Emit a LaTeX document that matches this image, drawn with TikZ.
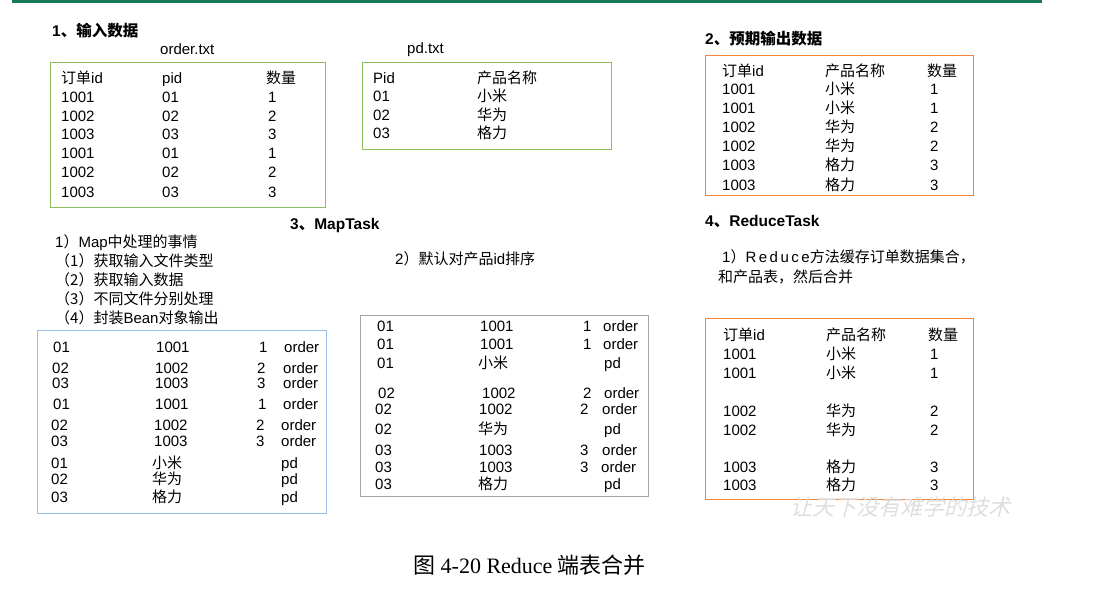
\documentclass[tikz,border=0pt]{standalone}
\usepackage{fontspec}
\setmainfont{Liberation Sans}
\newfontfamily\zh{Noto Sans CJK SC}
\newfontfamily\wmf{Noto Sans CJK SC}[FakeSlant=0.25]
\newfontfamily\capserif{Liberation Serif}
\newcommand\zc[1]{{\zh #1}}
\definecolor{topgreen}{RGB}{24,120,92}
\definecolor{boxgreen}{RGB}{140,192,95}
\definecolor{boxorange}{RGB}{242,133,52}
\definecolor{boxblue}{RGB}{150,190,230}
\definecolor{boxgray}{RGB}{165,165,165}
\definecolor{wmgray}{RGB}{222,222,222}
\begin{document}
\begin{tikzpicture}[x=1pt,y=-1pt,
  cell/.style={anchor=base west, inner sep=0pt, font=\fontsize{15}{18}\selectfont},
  head/.style={anchor=base west, inner sep=0pt, font=\fontsize{15.5}{18}\selectfont\bfseries},
  box/.style={draw, line width=1.3pt, anchor=north west, inner sep=0pt},
]
\useasboundingbox (0,0) rectangle (1106,591);
\fill[topgreen] (12,0) rectangle (1042,3);

% ---------- 1 input data
\node[head] (h1) at (52,37) {1\zc{、输入数据}};
\node[cell] (ordlbl) at (160,55) {order.txt};
\node[box, draw=boxgreen, minimum width=275pt, minimum height=145pt] (orderbox) at (50,62) {};
\node[cell] (oh1) at (61,84) {\zc{订单}id};
\node[cell] (oh2) at (162,84) {pid};
\node[cell] (oh3) at (266,84) {\zc{数量}};
\foreach \y/\a/\b/\c [count=\i] in {103/1001/01/1,122/1002/02/2,140/1003/03/3,159/1001/01/1,178/1002/02/2,197/1003/03/3}{
  \node[cell] (oa\i) at (61,\y) {\a};
  \node[cell] (ob\i) at (162,\y) {\b};
  \node[cell] (oc\i) at (268,\y) {\c};
}

\node[cell] (pdlbl) at (407,54) {pd.txt};
\node[box, draw=boxgreen, minimum width=249pt, minimum height=87pt] (pdbox) at (362,62) {};
\node[cell] (ph1) at (373,84) {Pid};
\node[cell] (ph2) at (477,84) {\zc{产品名称}};
\foreach \y/\a/\b [count=\i] in {102/01/小米,121/02/华为,139/03/格力}{
  \node[cell] (pa\i) at (373,\y) {\a};
  \node[cell] (pb\i) at (477,\y) {\zc{\b}};
}

% ---------- 2 expected output
\node[head] (h2) at (705,45) {2\zc{、预期输出数据}};
\node[box, draw=boxorange, minimum width=268pt, minimum height=140pt] (expbox) at (705,55) {};
\node[cell] (eh1) at (722,77) {\zc{订单}id};
\node[cell] (eh2) at (825,77) {\zc{产品名称}};
\node[cell] (eh3) at (927,77) {\zc{数量}};
\foreach \y/\a/\b/\c [count=\i] in {95/1001/小米/1,114/1001/小米/1,133/1002/华为/2,152/1002/华为/2,171/1003/格力/3,190/1003/格力/3}{
  \node[cell] (ea\i) at (722,\y) {\a};
  \node[cell] (eb\i) at (825,\y) {\zc{\b}};
  \node[cell] (ec\i) at (930,\y) {\c};
}

% ---------- 3 MapTask
\node[head] (h3) at (290,229) {3\zc{、}MapTask};
\node[cell] (m0) at (55,247) {1\zc{）}Map\zc{中处理的事情}};
\node[cell] (m1) at (55,266) {\zc{（1）获取输入文件类型}};
\node[cell] (m2) at (55,285) {\zc{（2）获取输入数据}};
\node[cell] (m3) at (55,304) {\zc{（3）不同文件分别处理}};
\node[cell] (m4) at (55,323) {\zc{（4）封装}Bean\zc{对象输出}};
\node[cell] (m5) at (395,264) {2\zc{）默认对产品}id\zc{排序}};

\node[box, draw=boxblue, minimum width=289pt, minimum height=183pt] (mapbox) at (37,330) {};
\foreach \y/\xa/\a/\xb/\b/\xc/\c/\xd/\d [count=\i] in {
  352/53/01/156/1001/259/1/284/order,
  373/52/02/155/1002/257/2/283/order,
  388/52/03/155/1003/257/3/283/order,
  409/53/01/155/1001/258/1/283/order,
  430/51/02/154/1002/256/2/281/order,
  446/51/03/154/1003/256/3/281/order,
  468/51/01/152/\zc{小米}/256//281/pd,
  484/51/02/152/\zc{华为}/256//281/pd,
  502/51/03/152/\zc{格力}/256//281/pd}{
  \node[cell] (ma\i) at (\xa,\y) {\a};
  \node[cell] (mb\i) at (\xb,\y) {\b};
  \node[cell] (mc\i) at (\xc,\y) {\c};
  \node[cell] (md\i) at (\xd,\y) {\d};
}

\node[box, draw=boxgray, minimum width=288pt, minimum height=181pt] (sortbox) at (360,315) {};
\foreach \y/\xa/\a/\xb/\b/\xc/\c/\xd/\d [count=\i] in {
  331/377/01/480/1001/583/1/603/order,
  349/377/01/480/1001/583/1/603/order,
  368/377/01/478/\zc{小米}/583//604/pd,
  398/378/02/482/1002/583/2/604/order,
  414/375/02/479/1002/580/2/602/order,
  434/375/02/478/\zc{华为}/580//604/pd,
  455/375/03/479/1003/580/3/602/order,
  472/375/03/479/1003/580/3/601/order,
  489/375/03/478/\zc{格力}/580//604/pd}{
  \node[cell] (sa\i) at (\xa,\y) {\a};
  \node[cell] (sb\i) at (\xb,\y) {\b};
  \node[cell] (sc\i) at (\xc,\y) {\c};
  \node[cell] (sd\i) at (\xd,\y) {\d};
}

% ---------- 4 ReduceTask
\node[head] (h4) at (705,226) {4\zc{、}ReduceTask};
\node[cell] (r0) at (722,262) {1\zc{）}R\,e\,d\,u\,c\,e\zc{方法缓存订单数据集合，}};
\node[cell] (r1) at (718,282) {\zc{和产品表，然后合并}};
\node[box, draw=boxorange, minimum width=268pt, minimum height=181pt] (redbox) at (705,318) {};
\node[cell] (rh1) at (723,340) {\zc{订单}id};
\node[cell] (rh2) at (826,340) {\zc{产品名称}};
\node[cell] (rh3) at (928,340) {\zc{数量}};
\foreach \y/\a/\b/\c [count=\i] in {359/1001/小米/1,378/1001/小米/1,416/1002/华为/2,435/1002/华为/2,472/1003/格力/3,490/1003/格力/3}{
  \node[cell] (ra\i) at (723,\y) {\a};
  \node[cell] (rb\i) at (826,\y) {\zc{\b}};
  \node[cell] (rc\i) at (930,\y) {\c};
}

% ---------- watermark and caption
\node[anchor=base west, inner sep=0pt, text=wmgray, font=\fontsize{22}{24}\selectfont\wmf] (wm) at (790,515) {让天下没有难学的技术};
\node[anchor=base west, inner sep=0pt, font=\fontsize{22}{24}\selectfont\capserif] (cap) at (413,573) {\zc{图} 4-20 Reduce \zc{端表合并}};
\end{tikzpicture}
\end{document}
